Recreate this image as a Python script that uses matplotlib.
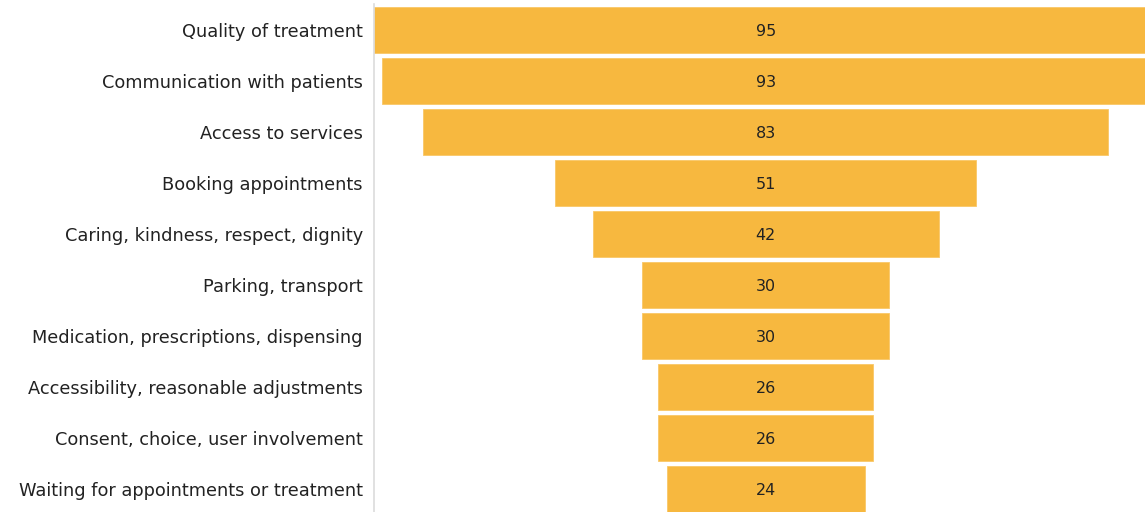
import matplotlib.pyplot as plt

categories = ['Quality of treatment', 'Communication with patients', 'Access to services',
              'Booking appointments', 'Caring, kindness, respect, dignity', 'Parking, transport',
              'Medication, prescriptions, dispensing', 'Accessibility, reasonable adjustments',
              'Consent, choice, user involvement', 'Waiting for appointments or treatment']
counts = [95, 93, 83, 51, 42, 30, 30, 26, 26, 24]

plt.rcParams['font.family'] = ['DejaVu Sans']

W, H = 1145, 512
fig = plt.figure(figsize=(W / 100, H / 100), dpi=100)
ax = fig.add_axes([374 / W, 0, (W - 374) / W, 1])

# funnel: each bar centred on zero
ypos = list(range(len(categories)))
lefts = [-c / 2 for c in counts]
ax.barh(ypos, counts, left=lefts, height=0.9, color='#F7B83F', edgecolor='#F9C768', linewidth=0.6)

for y, c in zip(ypos, counts):
    ax.text(0, y, str(c), ha='center', va='center_baseline', fontsize=11.5, color='#222222')

ax.set_xlim(-47.5, 46.0)
ax.set_ylim(9.45, -0.588)
ax.set_yticks(ypos)
ax.set_yticklabels(categories, fontsize=12.8, color='#222222')
ax.tick_params(axis='y', length=0, pad=8)
ax.set_xticks([])
for s in ['top', 'right', 'bottom']:
    ax.spines[s].set_visible(False)
ax.spines['left'].set_color('#dcdcdc')
ax.spines['left'].set_linewidth(1.2)
ax.spines['left'].set_bounds(9.45, -0.5)

fig.savefig('out.png', dpi=100)
